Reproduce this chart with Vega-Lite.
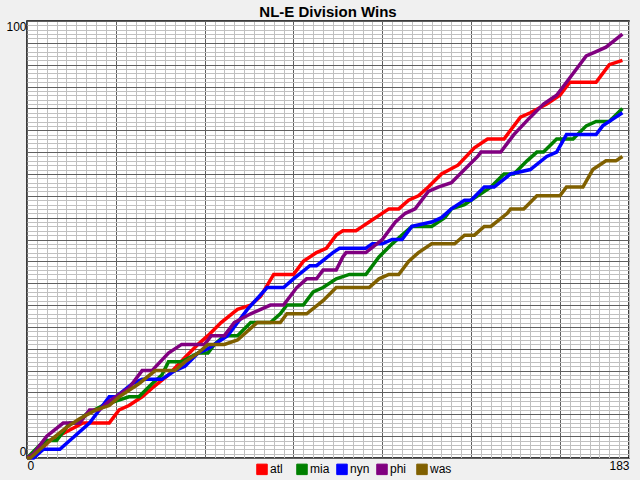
{
  "$schema": "https://vega.github.io/schema/vega-lite/v6.json",
  "autosize": "none",
  "width": 602,
  "height": 437,
  "padding": {"left": 27, "top": 21, "right": 11, "bottom": 22},
  "background": "#f0f0f0",
  "title": {"text": "NL-E Division Wins", "font": "Liberation Sans", "fontSize": 15, "fontWeight": "bold", "color": "#000", "offset": -1},
  "data": {"values": [
    {"team": "atl", "day": 0, "wins": 0}, {"team": "atl", "day": 3, "wins": 1}, {"team": "atl", "day": 7, "wins": 4}, {"team": "atl", "day": 12, "wins": 6},
    {"team": "atl", "day": 17, "wins": 8}, {"team": "atl", "day": 25, "wins": 8}, {"team": "atl", "day": 28, "wins": 11}, {"team": "atl", "day": 31, "wins": 12},
    {"team": "atl", "day": 35, "wins": 14}, {"team": "atl", "day": 38, "wins": 16}, {"team": "atl", "day": 43, "wins": 19}, {"team": "atl", "day": 48, "wins": 23},
    {"team": "atl", "day": 52, "wins": 26}, {"team": "atl", "day": 55, "wins": 28}, {"team": "atl", "day": 59, "wins": 31}, {"team": "atl", "day": 64, "wins": 34},
    {"team": "atl", "day": 68, "wins": 35}, {"team": "atl", "day": 71, "wins": 37}, {"team": "atl", "day": 75, "wins": 42}, {"team": "atl", "day": 81, "wins": 42},
    {"team": "atl", "day": 84, "wins": 45}, {"team": "atl", "day": 88, "wins": 47}, {"team": "atl", "day": 91, "wins": 48}, {"team": "atl", "day": 94, "wins": 51},
    {"team": "atl", "day": 96, "wins": 52}, {"team": "atl", "day": 100, "wins": 52}, {"team": "atl", "day": 102, "wins": 53}, {"team": "atl", "day": 104, "wins": 54},
    {"team": "atl", "day": 110, "wins": 57}, {"team": "atl", "day": 113, "wins": 57}, {"team": "atl", "day": 116, "wins": 59}, {"team": "atl", "day": 119, "wins": 60},
    {"team": "atl", "day": 122, "wins": 62}, {"team": "atl", "day": 126, "wins": 65}, {"team": "atl", "day": 131, "wins": 67}, {"team": "atl", "day": 136, "wins": 71},
    {"team": "atl", "day": 140, "wins": 73}, {"team": "atl", "day": 145, "wins": 73}, {"team": "atl", "day": 150, "wins": 78}, {"team": "atl", "day": 153, "wins": 79},
    {"team": "atl", "day": 158, "wins": 81}, {"team": "atl", "day": 162, "wins": 83}, {"team": "atl", "day": 165, "wins": 86}, {"team": "atl", "day": 173, "wins": 86},
    {"team": "atl", "day": 177, "wins": 90}, {"team": "atl", "day": 181, "wins": 91},

    {"team": "mia", "day": 0, "wins": 0}, {"team": "mia", "day": 4, "wins": 3}, {"team": "mia", "day": 6, "wins": 4}, {"team": "mia", "day": 9, "wins": 4},
    {"team": "mia", "day": 13, "wins": 8}, {"team": "mia", "day": 15, "wins": 8}, {"team": "mia", "day": 18, "wins": 10}, {"team": "mia", "day": 23, "wins": 12},
    {"team": "mia", "day": 27, "wins": 13}, {"team": "mia", "day": 31, "wins": 14}, {"team": "mia", "day": 34, "wins": 14}, {"team": "mia", "day": 38, "wins": 17},
    {"team": "mia", "day": 41, "wins": 19}, {"team": "mia", "day": 43, "wins": 22}, {"team": "mia", "day": 47, "wins": 22}, {"team": "mia", "day": 52, "wins": 24},
    {"team": "mia", "day": 55, "wins": 24}, {"team": "mia", "day": 57, "wins": 26}, {"team": "mia", "day": 60, "wins": 28}, {"team": "mia", "day": 64, "wins": 28},
    {"team": "mia", "day": 68, "wins": 31}, {"team": "mia", "day": 74, "wins": 31}, {"team": "mia", "day": 77, "wins": 33}, {"team": "mia", "day": 79, "wins": 35},
    {"team": "mia", "day": 84, "wins": 35}, {"team": "mia", "day": 87, "wins": 38}, {"team": "mia", "day": 90, "wins": 39}, {"team": "mia", "day": 94, "wins": 41},
    {"team": "mia", "day": 98, "wins": 42}, {"team": "mia", "day": 103, "wins": 42}, {"team": "mia", "day": 107, "wins": 46}, {"team": "mia", "day": 111, "wins": 49},
    {"team": "mia", "day": 114, "wins": 51}, {"team": "mia", "day": 117, "wins": 53}, {"team": "mia", "day": 123, "wins": 53}, {"team": "mia", "day": 127, "wins": 55},
    {"team": "mia", "day": 129, "wins": 57}, {"team": "mia", "day": 133, "wins": 58}, {"team": "mia", "day": 137, "wins": 60}, {"team": "mia", "day": 141, "wins": 62},
    {"team": "mia", "day": 145, "wins": 65}, {"team": "mia", "day": 148, "wins": 65}, {"team": "mia", "day": 152, "wins": 68}, {"team": "mia", "day": 155, "wins": 70},
    {"team": "mia", "day": 157, "wins": 70}, {"team": "mia", "day": 161, "wins": 73}, {"team": "mia", "day": 166, "wins": 73}, {"team": "mia", "day": 170, "wins": 76},
    {"team": "mia", "day": 173, "wins": 77}, {"team": "mia", "day": 177, "wins": 77}, {"team": "mia", "day": 181, "wins": 80},

    {"team": "nyn", "day": 0, "wins": 0}, {"team": "nyn", "day": 2, "wins": 0}, {"team": "nyn", "day": 5, "wins": 2}, {"team": "nyn", "day": 10, "wins": 2},
    {"team": "nyn", "day": 13, "wins": 4}, {"team": "nyn", "day": 19, "wins": 8}, {"team": "nyn", "day": 22, "wins": 11}, {"team": "nyn", "day": 25, "wins": 14},
    {"team": "nyn", "day": 27, "wins": 14}, {"team": "nyn", "day": 32, "wins": 17}, {"team": "nyn", "day": 35, "wins": 18}, {"team": "nyn", "day": 41, "wins": 18},
    {"team": "nyn", "day": 45, "wins": 20}, {"team": "nyn", "day": 48, "wins": 21}, {"team": "nyn", "day": 52, "wins": 24}, {"team": "nyn", "day": 55, "wins": 25},
    {"team": "nyn", "day": 61, "wins": 28}, {"team": "nyn", "day": 67, "wins": 34}, {"team": "nyn", "day": 73, "wins": 39}, {"team": "nyn", "day": 78, "wins": 39},
    {"team": "nyn", "day": 81, "wins": 41}, {"team": "nyn", "day": 86, "wins": 44}, {"team": "nyn", "day": 88, "wins": 44}, {"team": "nyn", "day": 93, "wins": 47},
    {"team": "nyn", "day": 95, "wins": 48}, {"team": "nyn", "day": 103, "wins": 48}, {"team": "nyn", "day": 105, "wins": 49}, {"team": "nyn", "day": 108, "wins": 49},
    {"team": "nyn", "day": 111, "wins": 50}, {"team": "nyn", "day": 114, "wins": 50}, {"team": "nyn", "day": 117, "wins": 53}, {"team": "nyn", "day": 123, "wins": 54},
    {"team": "nyn", "day": 126, "wins": 55}, {"team": "nyn", "day": 129, "wins": 57}, {"team": "nyn", "day": 133, "wins": 59}, {"team": "nyn", "day": 135, "wins": 59},
    {"team": "nyn", "day": 139, "wins": 62}, {"team": "nyn", "day": 142, "wins": 62}, {"team": "nyn", "day": 147, "wins": 65}, {"team": "nyn", "day": 153, "wins": 66},
    {"team": "nyn", "day": 158, "wins": 69}, {"team": "nyn", "day": 161, "wins": 70}, {"team": "nyn", "day": 164, "wins": 74}, {"team": "nyn", "day": 173, "wins": 74},
    {"team": "nyn", "day": 175, "wins": 76}, {"team": "nyn", "day": 179, "wins": 78}, {"team": "nyn", "day": 181, "wins": 79},

    {"team": "phi", "day": 0, "wins": 0}, {"team": "phi", "day": 2, "wins": 1}, {"team": "phi", "day": 6, "wins": 5}, {"team": "phi", "day": 11, "wins": 8},
    {"team": "phi", "day": 16, "wins": 8}, {"team": "phi", "day": 19, "wins": 11}, {"team": "phi", "day": 22, "wins": 11}, {"team": "phi", "day": 25, "wins": 13},
    {"team": "phi", "day": 31, "wins": 16}, {"team": "phi", "day": 35, "wins": 20}, {"team": "phi", "day": 38, "wins": 20}, {"team": "phi", "day": 43, "wins": 24},
    {"team": "phi", "day": 47, "wins": 26}, {"team": "phi", "day": 54, "wins": 26}, {"team": "phi", "day": 56, "wins": 28}, {"team": "phi", "day": 60, "wins": 28},
    {"team": "phi", "day": 63, "wins": 31}, {"team": "phi", "day": 68, "wins": 33}, {"team": "phi", "day": 74, "wins": 35}, {"team": "phi", "day": 78, "wins": 35},
    {"team": "phi", "day": 82, "wins": 39}, {"team": "phi", "day": 85, "wins": 41}, {"team": "phi", "day": 88, "wins": 41}, {"team": "phi", "day": 90, "wins": 43},
    {"team": "phi", "day": 94, "wins": 43}, {"team": "phi", "day": 96, "wins": 46}, {"team": "phi", "day": 97, "wins": 47}, {"team": "phi", "day": 103, "wins": 47},
    {"team": "phi", "day": 108, "wins": 50}, {"team": "phi", "day": 112, "wins": 54}, {"team": "phi", "day": 115, "wins": 56}, {"team": "phi", "day": 118, "wins": 57},
    {"team": "phi", "day": 122, "wins": 61}, {"team": "phi", "day": 125, "wins": 62}, {"team": "phi", "day": 129, "wins": 63}, {"team": "phi", "day": 133, "wins": 66},
    {"team": "phi", "day": 137, "wins": 69}, {"team": "phi", "day": 138, "wins": 70}, {"team": "phi", "day": 144, "wins": 70}, {"team": "phi", "day": 148, "wins": 74},
    {"team": "phi", "day": 153, "wins": 78}, {"team": "phi", "day": 157, "wins": 81}, {"team": "phi", "day": 161, "wins": 83}, {"team": "phi", "day": 164, "wins": 86},
    {"team": "phi", "day": 170, "wins": 92}, {"team": "phi", "day": 173, "wins": 93}, {"team": "phi", "day": 176, "wins": 94}, {"team": "phi", "day": 181, "wins": 97},

    {"team": "was", "day": 0, "wins": 0}, {"team": "was", "day": 1, "wins": 0}, {"team": "was", "day": 4, "wins": 2}, {"team": "was", "day": 7, "wins": 4},
    {"team": "was", "day": 12, "wins": 7}, {"team": "was", "day": 16, "wins": 9}, {"team": "was", "day": 21, "wins": 11}, {"team": "was", "day": 25, "wins": 12},
    {"team": "was", "day": 28, "wins": 14}, {"team": "was", "day": 34, "wins": 17}, {"team": "was", "day": 39, "wins": 20}, {"team": "was", "day": 45, "wins": 20},
    {"team": "was", "day": 48, "wins": 22}, {"team": "was", "day": 52, "wins": 24}, {"team": "was", "day": 55, "wins": 26}, {"team": "was", "day": 60, "wins": 26},
    {"team": "was", "day": 64, "wins": 27}, {"team": "was", "day": 70, "wins": 31}, {"team": "was", "day": 77, "wins": 31}, {"team": "was", "day": 79, "wins": 33},
    {"team": "was", "day": 85, "wins": 33}, {"team": "was", "day": 90, "wins": 36}, {"team": "was", "day": 94, "wins": 39}, {"team": "was", "day": 104, "wins": 39},
    {"team": "was", "day": 107, "wins": 41}, {"team": "was", "day": 110, "wins": 42}, {"team": "was", "day": 113, "wins": 42}, {"team": "was", "day": 116, "wins": 45},
    {"team": "was", "day": 119, "wins": 47}, {"team": "was", "day": 123, "wins": 49}, {"team": "was", "day": 130, "wins": 49}, {"team": "was", "day": 133, "wins": 51},
    {"team": "was", "day": 136, "wins": 51}, {"team": "was", "day": 139, "wins": 53}, {"team": "was", "day": 141, "wins": 53}, {"team": "was", "day": 146, "wins": 56},
    {"team": "was", "day": 147, "wins": 57}, {"team": "was", "day": 151, "wins": 57}, {"team": "was", "day": 155, "wins": 60}, {"team": "was", "day": 162, "wins": 60},
    {"team": "was", "day": 164, "wins": 62}, {"team": "was", "day": 169, "wins": 62}, {"team": "was", "day": 172, "wins": 66}, {"team": "was", "day": 176, "wins": 68},
    {"team": "was", "day": 179, "wins": 68}, {"team": "was", "day": 181, "wins": 69}
  ]},
  "mark": {"type": "line", "strokeWidth": 3.5, "strokeCap": "butt", "strokeJoin": "miter"},
  "encoding": {
    "x": {
      "field": "day", "type": "quantitative",
      "scale": {"domain": [0, 183], "nice": false, "zero": false},
      "axis": {
        "title": null, "domain": false, "ticks": false, "labelPadding": 2,
        "labelFlush": true, "labelOverlap": false,
        "values": [0, 3, 6, 9, 12, 15, 18, 21, 24, 27, 30, 33, 36, 39, 42, 45, 48, 51, 54, 57, 60, 63, 66, 69, 72, 75, 78, 81, 84, 87, 90, 93, 96, 99, 102, 105, 108, 111, 114, 117, 120, 123, 126, 129, 132, 135, 138, 141, 144, 147, 150, 153, 156, 159, 162, 165, 168, 171, 174, 177, 180, 183],
        "labelExpr": "datum.value == 0 || datum.value == 183 ? datum.label : ''",
        "gridColor": {"condition": {"test": "datum.value % 27 === 0", "value": "#606060"}, "value": "#c0c0c0"},
        "gridWidth": 1, "gridOpacity": 1
      }
    },
    "y": {
      "field": "wins", "type": "quantitative",
      "scale": {"domain": [0, 100], "nice": false},
      "axis": {
        "title": null, "domain": false, "ticks": false, "labelPadding": 1,
        "labelFlush": true, "labelOverlap": false,
        "values": [0, 1, 2, 3, 4, 5, 6, 7, 8, 9, 10, 11, 12, 13, 14, 15, 16, 17, 18, 19, 20, 21, 22, 23, 24, 25, 26, 27, 28, 29, 30, 31, 32, 33, 34, 35, 36, 37, 38, 39, 40, 41, 42, 43, 44, 45, 46, 47, 48, 49, 50, 51, 52, 53, 54, 55, 56, 57, 58, 59, 60, 61, 62, 63, 64, 65, 66, 67, 68, 69, 70, 71, 72, 73, 74, 75, 76, 77, 78, 79, 80, 81, 82, 83, 84, 85, 86, 87, 88, 89, 90, 91, 92, 93, 94, 95, 96, 97, 98, 99, 100],
        "labelExpr": "datum.value == 0 || datum.value == 100 ? datum.label : ''",
        "gridColor": {"condition": {"test": "datum.value % 5 === 0", "value": "#606060"}, "value": "#c0c0c0"},
        "gridWidth": 1, "gridOpacity": 1
      }
    },
    "color": {
      "field": "team", "type": "nominal",
      "scale": {"domain": ["atl", "mia", "nyn", "phi", "was"], "range": ["#ff0000", "#008000", "#0000ff", "#800080", "#806000"]},
      "legend": {
        "title": null, "orient": "none", "direction": "horizontal",
        "legendX": 229, "legendY": 442,
        "symbolType": "square", "symbolSize": 110, "symbolStrokeWidth": 1,
        "labelOffset": 2, "columnPadding": 2, "gridAlign": "all",
        "labelFont": "Liberation Sans", "labelFontSize": 12, "labelColor": "#000",
        "encode": {"symbols": {"update": {"fill": {"scale": "color", "field": "value"}, "stroke": {"value": "#000"}, "fillOpacity": {"value": 1}, "strokeWidth": {"value": 1}}}}
      }
    }
  },
  "config": {
    "view": {"stroke": "#000", "strokeWidth": 1.5, "fill": "#ffffff"},
    "axis": {"labelFont": "Liberation Sans", "labelFontSize": 12, "labelColor": "#000"}
  }
}
